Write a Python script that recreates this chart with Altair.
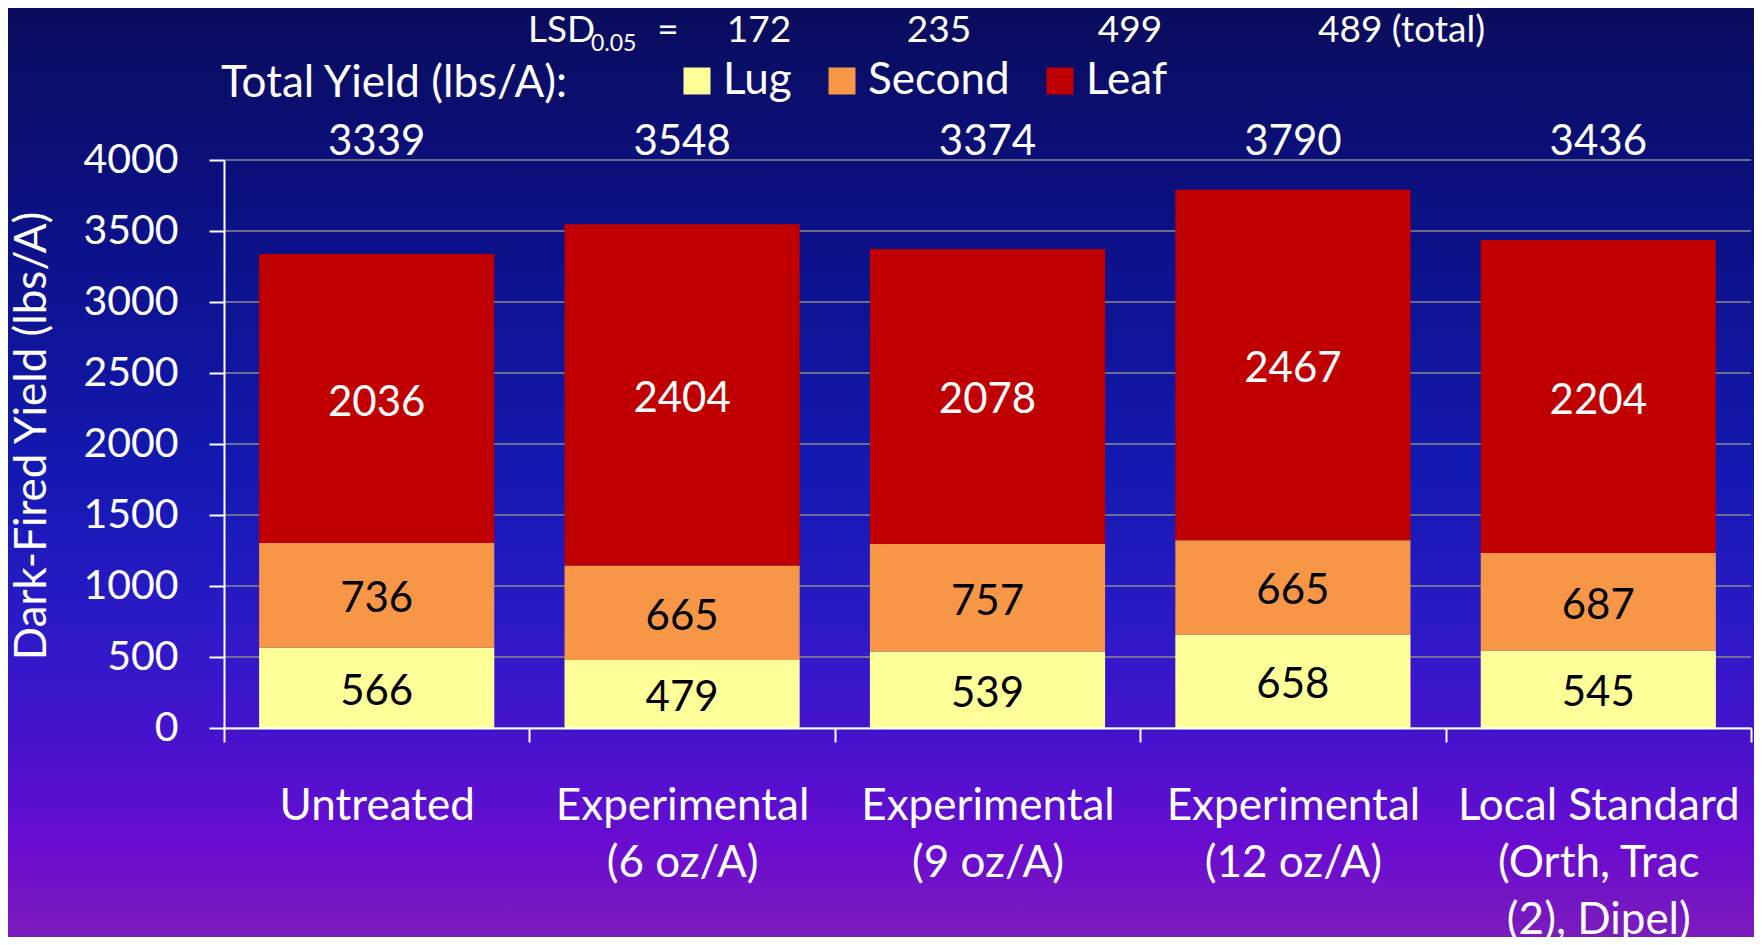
import altair as alt
import pandas as pd

# ---------------- data ----------------
categories = [
    "Untreated",
    "Experimental|(6 oz/A)",
    "Experimental|(9 oz/A)",
    "Experimental|(12 oz/A)",
    "Local Standard|(Orth, Trac|(2), Dipel)",
]
series = ["Lug", "Second", "Leaf"]
lug = [566, 479, 539, 658, 545]
second = [736, 665, 757, 665, 687]
leaf = [2036, 2404, 2078, 2467, 2204]
totals = [3339, 3548, 3374, 3790, 3436]
lsd_values = ["172", "235", "499", "489 (total)"]
y_ticks = [0, 500, 1000, 1500, 2000, 2500, 3000, 3500, 4000]

colors = ["#FFFF99", "#F79646", "#C00000"]

# ---------------- layout ----------------
W, H = 1527, 568
PAD = {"left": 216, "top": 152, "right": 3, "bottom": 209}
FONT = "Lato"

rows = []
for i, c in enumerate(categories):
    for j, (s, vals) in enumerate(zip(series, [lug, second, leaf])):
        rows.append({"cat": c, "series": s, "order": j, "value": vals[i]})
df = pd.DataFrame(rows)

xscale = alt.Scale(domain=categories, paddingInner=0, paddingOuter=0)
yscale = alt.Scale(domain=[0, 4000], nice=False, zero=True)

x_axis = alt.Axis(
    title=None, labelExpr="split(datum.label, '|')", labelAngle=0,
    labelFont=FONT, labelFontSize=44, labelColor="white", labelPadding=42,
    labelLineHeight=57, labelLimit=400, tickBand="extent", tickSize=14,
    tickColor="white", tickWidth=2, domainColor="white", domainWidth=2,
    grid=False, zindex=1,
)
y_axis = alt.Axis(
    title=None, values=y_ticks, format="d", labelFont=FONT, labelFontSize=41,
    labelColor="white", labelPadding=31, tickSize=15, tickColor="white",
    tickWidth=2, domainColor="white", domainWidth=2, grid=False, zindex=1,
)

# background gradient
bg = alt.Chart(pd.DataFrame({"a": [0]})).mark_rect(
    fill=alt.Gradient(
        gradient="linear", x1=0, x2=0, y1=0, y2=1,
        stops=[
            alt.GradientStop(offset=0.0, color="#0A0C5C"),
            alt.GradientStop(offset=0.25, color="#0C1188"),
            alt.GradientStop(offset=0.5, color="#1419B2"),
            alt.GradientStop(offset=0.66, color="#2A1AC6"),
            alt.GradientStop(offset=0.8, color="#4A12CE"),
            alt.GradientStop(offset=0.9, color="#6A0CD0"),
            alt.GradientStop(offset=1.0, color="#7B1CBC"),
        ],
    )
).encode(
    x=alt.value(-PAD["left"]), x2=alt.value(W + PAD["right"]),
    y=alt.value(-PAD["top"]), y2=alt.value(H + PAD["bottom"]),
)

# horizontal gridlines
grid = alt.Chart(pd.DataFrame({"y0": y_ticks})).mark_rule(
    color="#8a8a8a", strokeWidth=1.5
).encode(y=alt.Y("y0:Q", scale=yscale, axis=y_axis))

base = alt.Chart(df).transform_stack(
    stack="value", groupby=["cat"], as_=["y0", "y1"],
    sort=[alt.SortField("order", order="ascending")],
).transform_calculate(mid="(datum.y0 + datum.y1) / 2")

bars = base.mark_bar(width=alt.RelativeBandSize(0.77)).encode(
    x=alt.X("cat:N", scale=xscale, sort=categories, axis=x_axis),
    y=alt.Y("y0:Q", scale=yscale, axis=y_axis),
    y2="y1:Q",
    color=alt.Color(
        "series:N",
        scale=alt.Scale(domain=series, range=colors),
        legend=alt.Legend(
            title=None, orient="none", legendX=451, legendY=-101,
            direction="horizontal", symbolType="square", symbolSize=729,
            symbolStrokeWidth=0, symbolOpacity=1, labelFont=FONT,
            labelFontSize=44, labelColor="white", labelOffset=4,
            columnPadding=28, padding=0, labelLimit=300,
        ),
    ),
)

seg_text = base.mark_text(font=FONT, fontSize=42, baseline="middle", dy=4).encode(
    x=alt.X("cat:N", scale=xscale, sort=categories),
    y=alt.Y("mid:Q", scale=yscale),
    text="value:Q",
    color=alt.condition(alt.datum.series == "Leaf", alt.value("white"), alt.value("black")),
)

tot_df = pd.DataFrame({"cat": categories, "total": totals})
tot_text = alt.Chart(tot_df).mark_text(
    font=FONT, fontSize=42, color="white", baseline="alphabetic"
).encode(
    x=alt.X("cat:N", scale=xscale, sort=categories),
    y=alt.value(-5),
    text="total:Q",
)


def label(txt, x, y, size=44, align="left", baseline="alphabetic", angle=0):
    return alt.Chart(pd.DataFrame({"t": [txt]})).mark_text(
        font=FONT, fontSize=size, color="white", align=align,
        baseline=baseline, angle=angle,
    ).encode(x=alt.value(x), y=alt.value(y), text="t:N")


annotations = [
    label("Total Yield (lbs/A):", -3, -63),
    label("LSD", 304, -118, size=37),
    label("0.05", 367, -109, size=23),
    label("=", 444, -118, size=37, align="center"),
    label(lsd_values[0], 535, -118, size=37, align="center"),
    label(lsd_values[1], 715, -118, size=37, align="center"),
    label(lsd_values[2], 906, -118, size=37, align="center"),
    label(lsd_values[3], 1094, -118, size=37, align="left"),
    label("Dark-Fired Yield (lbs/A)", -191, 276, size=44, align="center",
          baseline="middle", angle=270),
]

chart = alt.layer(bg, grid, bars, seg_text, tot_text, *annotations).properties(
    width=W, height=H, padding=PAD,
    autosize=alt.AutoSizeParams(type="none"),
).configure(background="#0A0C5C").configure_view(strokeOpacity=0)

chart.save("out.html", embed_options={"renderer": "svg", "actions": False})
